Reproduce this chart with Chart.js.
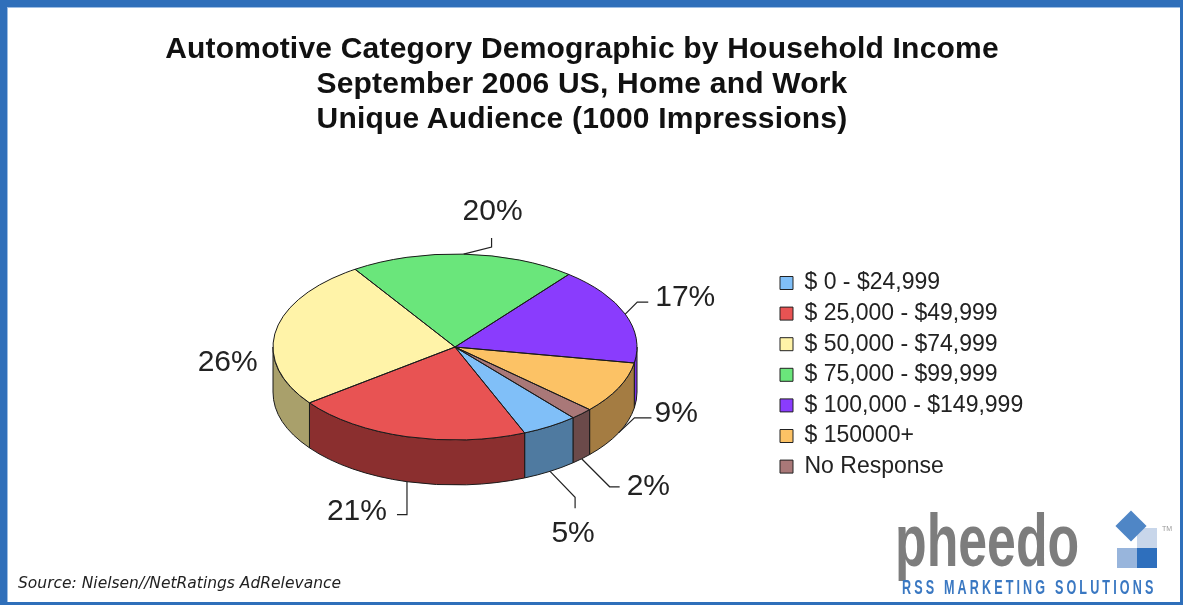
<!DOCTYPE html>
<html>
<head>
<meta charset="utf-8">
<script src="https://cdn.jsdelivr.net/npm/chart.js@4.4.1/dist/chart.umd.min.js"></script>
<style>
  html, body { margin: 0; padding: 0; background: #fff; }
  #wrap { position: relative; width: 1187px; height: 605px; overflow: hidden; background: #fff; }
  #frame {
    position: absolute; left: 0; top: 0; width: 1183px; height: 605px; box-sizing: border-box;
    border-style: solid; border-color: #2f6fba; border-width: 7px 3px 3px 7px;
    box-shadow: inset 1px 1px 0 #9dbde3;
  }
  #chart { position: absolute; left: 0; top: 0; }
  .title {
    position: absolute; left: 0; top: 30px; width: 1164px; text-align: center;
    font: bold 30px/35px "Liberation Sans", Arial, sans-serif; color: #111; letter-spacing: 0.2px;
  }
  .source {
    position: absolute; left: 18px; top: 574px;
    font: italic 15.5px/18px "DejaVu Sans", Verdana, sans-serif; color: #222;
  }
  .logo-word {
    position: absolute; left: 895px; top: 504px; transform: scaleX(0.7); transform-origin: 0 0;
    font: bold 74px/74px "Liberation Sans", Arial, sans-serif; color: #7d7d7d; white-space: nowrap;
  }
  .logo-tag {
    position: absolute; left: 902px; top: 576px; transform: scaleX(0.6); transform-origin: 0 0;
    font: bold 21px/21px "Liberation Sans", Arial, sans-serif; color: #3a78c2;
    letter-spacing: 5.2px; white-space: nowrap;
  }
  .tile { position: absolute; width: 20px; height: 20px; }
  .diamond {
    position: absolute; left: 1120px; top: 515px; width: 22px; height: 22px;
    background: #4f86c6; transform: rotate(45deg);
  }
  .tm { position: absolute; left: 1162px; top: 525px; font: 7px "Liberation Sans", Arial, sans-serif; color: #999; }
</style>
</head>
<body>
<div id="wrap">
  <canvas id="chart" width="1187" height="605"></canvas>
  <div class="title">Automotive Category Demographic by Household Income<br>September 2006 US, Home and Work<br>Unique Audience (1000 Impressions)</div>
  <div class="source">Source: Nielsen//NetRatings AdRelevance</div>
  <div class="logo-word">pheedo</div>
  <div class="tile" style="left:1137px;top:528px;background:#c8d6ea;"></div>
  <div class="tile" style="left:1117px;top:548px;background:#98b5dc;"></div>
  <div class="tile" style="left:1137px;top:548px;background:#2e6fbd;"></div>
  <div class="diamond"></div>
  <div class="tm">TM</div>
  <div class="logo-tag">RSS MARKETING SOLUTIONS</div>
  <div id="frame"></div>
</div>

<script>
// Household income split of the automotive audience, Sept 2006
const CATEGORIES = [
  '$ 0 - $24,999',
  '$ 25,000 - $49,999',
  '$ 50,000 - $74,999',
  '$ 75,000 - $99,999',
  '$ 100,000 - $149,999',
  '$ 150000+',
  'No Response'
];
const SHARES = [5, 21, 26, 20, 17, 9, 2];

const TOP_COLORS  = ['#80bff8', '#e85353', '#fff3a8', '#6ae67b', '#8a3cfd', '#fcc265', '#a97878'];
const SIDE_COLORS = ['#4f7aa0', '#8b2f2f', '#a9a06b', '#3f8a4a', '#7a33e6', '#a47c42', '#6b4a4a'];

// pie look
const START_ANGLE = 139.5;   // degrees, Chart.js rotation
const TILT  = 0.511;         // ellipse height / width
const DEPTH = 45;            // px, thickness of the rim
const PIE_CX = 455, PIE_CY = 347, PIE_R = 182;

// leader line + label placement, relative to each slice's rim anchor
const LEADERS = [
  { path: [[25, 26], [25, 37]],    text: [23, 62],    align: 'center' },
  { path: [[0, 33], [-10, 33]],    text: [-20, 30],   align: 'right' },
  { path: [],                      text: [-18, 32],   align: 'right' },
  { path: [[28, -7], [28, -16]],   text: [29, -42],   align: 'center' },
  { path: [[12, -12], [23, -12]],  text: [30, -16],   align: 'left' },
  { path: [[16, -15], [33, -15]],  text: [36, -19],   align: 'left' },
  { path: [[28, 28], [38, 28]],    text: [45, 28],    align: 'left' }
];

const LEGEND_FONT = { family: '"Liberation Sans", Arial, sans-serif', size: 23 };
const LEGEND_PAD = 7.6;
const LEGEND_BOX = 13;
const LEGEND_X = 780;        // left edge of legend swatches

// work out layout padding so the pie and legend land where they should
const measure = document.createElement('canvas').getContext('2d');
measure.font = `${LEGEND_FONT.size}px ${LEGEND_FONT.family}`;
const widest = Math.max(...CATEGORIES.map(t => measure.measureText(t).width));
const legendWidth = LEGEND_PAD + LEGEND_BOX + LEGEND_FONT.size / 2 + widest + 10;
const legendLeft = LEGEND_X - LEGEND_PAD;
const padRight = 1187 - legendLeft - legendWidth;
const padLeft = 2 * PIE_CX - legendLeft;
const padTop = PIE_CY - PIE_R;
const padBottom = 605 - (PIE_CY + PIE_R);

function frontRanges(s, e) {
  const out = [];
  for (let k = -1; k <= 2; k++) {
    const lo = Math.max(s, 2 * Math.PI * k);
    const hi = Math.min(e, 2 * Math.PI * k + Math.PI);
    if (hi > lo) out.push([lo, hi]);
  }
  return out;
}

const pie3d = {
  id: 'pie3d',
  beforeDatasetsDraw(chart) {
    const ctx = chart.ctx;
    const arcs = chart.getDatasetMeta(0).data;

    // rim walls, front half only
    ctx.save();
    ctx.lineWidth = 1;
    ctx.strokeStyle = '#1a1a1a';
    arcs.forEach((arc, i) => {
      const r = arc.outerRadius;
      frontRanges(arc.startAngle, arc.endAngle).forEach(([a0, a1]) => {
        ctx.beginPath();
        ctx.ellipse(arc.x, arc.y, r, r * TILT, 0, a0, a1);
        ctx.ellipse(arc.x, arc.y + DEPTH, r, r * TILT, 0, a1, a0, true);
        ctx.closePath();
        ctx.fillStyle = SIDE_COLORS[i];
        ctx.fill();
        ctx.stroke();
      });
    });
    ctx.restore();

    // squash the top face into an ellipse
    const { x, y } = arcs[0];
    ctx.save();
    ctx.translate(x, y);
    ctx.scale(1, TILT);
    ctx.translate(-x, -y);
  },
  afterDatasetsDraw(chart) {
    const ctx = chart.ctx;
    ctx.restore();
    const arcs = chart.getDatasetMeta(0).data;
    const total = SHARES.reduce((a, b) => a + b, 0);

    ctx.save();
    ctx.lineWidth = 1;
    ctx.strokeStyle = '#1a1a1a';
    arcs.forEach(arc => {
      const r = arc.outerRadius;
      ctx.beginPath();
      ctx.moveTo(arc.x, arc.y);
      ctx.ellipse(arc.x, arc.y, r, r * TILT, 0, arc.startAngle, arc.endAngle);
      ctx.closePath();
      ctx.stroke();
    });

    ctx.font = '30px "Liberation Sans", Arial, sans-serif';
    ctx.fillStyle = '#222';
    ctx.strokeStyle = '#222';
    ctx.lineWidth = 1.2;
    ctx.textBaseline = 'middle';
    arcs.forEach((arc, i) => {
      const mid = (arc.startAngle + arc.endAngle) / 2;
      const s = Math.sin(mid);
      const ax = arc.x + arc.outerRadius * Math.cos(mid);
      const ay = arc.y + arc.outerRadius * TILT * s + (s > 0 ? DEPTH : 0);
      const L = LEADERS[i];
      if (L.path.length) {
        ctx.beginPath();
        ctx.moveTo(ax, ay);
        L.path.forEach(([dx, dy]) => ctx.lineTo(ax + dx, ay + dy));
        ctx.stroke();
      }
      ctx.textAlign = L.align;
      ctx.fillText(Math.round(SHARES[i] / total * 100) + '%', ax + L.text[0], ay + L.text[1]);
    });
    ctx.restore();
  }
};

new Chart(document.getElementById('chart'), {
  type: 'pie',
  data: {
    labels: CATEGORIES,
    datasets: [{
      data: SHARES,
      backgroundColor: TOP_COLORS,
      borderWidth: 0
    }]
  },
  options: {
    responsive: false,
    animation: false,
    events: [],
    rotation: START_ANGLE,
    layout: { padding: { left: padLeft, right: padRight, top: padTop, bottom: padBottom } },
    plugins: {
      tooltip: { enabled: false },
      title: { display: false },
      legend: {
        position: 'right',
        align: 'center',
        title: { display: true, text: '', font: { size: 1 }, padding: { top: 54.4, bottom: 0 } },
        labels: {
          boxWidth: LEGEND_BOX,
          boxHeight: LEGEND_BOX,
          padding: LEGEND_PAD,
          color: '#222',
          font: LEGEND_FONT,
          generateLabels(chart) {
            const items = Chart.overrides.pie.plugins.legend.labels.generateLabels(chart);
            items.forEach(it => { it.strokeStyle = '#222'; it.lineWidth = 1; });
            return items;
          }
        }
      }
    }
  },
  plugins: [pie3d]
});
</script>
</body>
</html>
